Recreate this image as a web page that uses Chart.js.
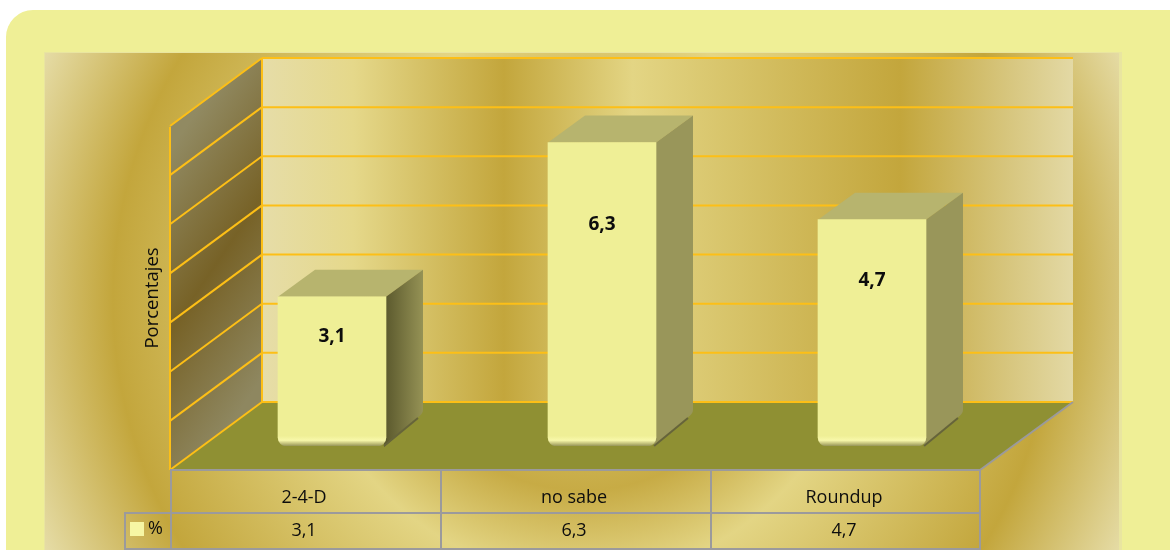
<!DOCTYPE html>
<html>
<head>
<meta charset="utf-8">
<title>Porcentajes</title>
<script src="https://cdn.jsdelivr.net/npm/chart.js@4"></script>
<style>
    html, body { margin: 0; padding: 0; background: #fff; }
    canvas { display: block; }
</style>
</head>
<body>
<canvas id="chart" width="1170" height="550"></canvas>
<script>
const categories = ['2-4-D', 'no sabe', 'Roundup'];
const values = [3.1, 6.3, 4.7];
const wallTicks = [0, 1, 2, 3, 4, 5, 6, 7];
const seriesName = '%';
const axisTitle = 'Porcentajes';

const FONT = '"Open Sans", sans-serif';
const GRID = '#fdbf16';
const LINE = '#9b9a9c';
const BAR = '#efef96';

function comma(v) {
    return v.toFixed(1).replace('.', ',');
}

function polygon(ctx, points, fill) {
    ctx.beginPath();
    points.forEach(function (p, i) {
        if (i === 0) ctx.moveTo(p[0], p[1]);
        else ctx.lineTo(p[0], p[1]);
    });
    ctx.closePath();
    ctx.fillStyle = fill;
    ctx.fill();
}

function line(ctx, x1, y1, x2, y2, color, width) {
    ctx.beginPath();
    ctx.moveTo(x1, y1);
    ctx.lineTo(x2, y2);
    ctx.strokeStyle = color;
    ctx.lineWidth = width;
    ctx.stroke();
}

// frame, walls and floor of the 3d box
const boxPlugin = {
    id: 'box',
    beforeDraw(chart) {
        const ctx = chart.ctx;
        ctx.save();

        ctx.fillStyle = '#fff';
        ctx.fillRect(0, 0, 1170, 550);
        ctx.beginPath();
        ctx.roundRect(6, 10, 1200, 600, 27);
        ctx.fillStyle = BAR;
        ctx.fill();

        ctx.fillStyle = '#e9e5a0';
        ctx.fillRect(44, 52, 1078, 498);
        const panel = ctx.createRadialGradient(583, 300, 0, 583, 300, 595);
        panel.addColorStop(0, '#e3d584');
        panel.addColorStop(0.32, '#c7ab45');
        panel.addColorStop(0.465, '#e3d584');
        panel.addColorStop(0.79, '#c3a63c');
        panel.addColorStop(1, '#e6dda8');
        ctx.fillStyle = panel;
        ctx.fillRect(45, 53, 1074, 497);

        const back = ctx.createLinearGradient(262, 0, 1073, 0);
        back.addColorStop(0, '#e6dda8');
        back.addColorStop(0.113, '#e5d88a');
        back.addColorStop(0.298, '#c3a63c');
        back.addColorStop(0.457, '#e3d584');
        back.addColorStop(0.787, '#c3a63c');
        back.addColorStop(1, '#e3d9a5');
        ctx.fillStyle = back;
        ctx.fillRect(262, 58, 811, 344);

        const side = ctx.createLinearGradient(170, 150, 339, 265);
        side.addColorStop(0, '#918a62');
        side.addColorStop(0.5, '#776227');
        side.addColorStop(1, '#8e8760');
        polygon(ctx, [[170, 127], [262, 58], [262, 402], [170, 470]], side);

        polygon(ctx, [[170, 470], [262, 402], [1073, 402], [980, 470]], '#8f9033');

        // one grid line per tick, on both walls
        const step = 344 / (wallTicks.length - 1);
        wallTicks.forEach(function (t) {
            const yBack = 402 - t * step;
            const yFront = 470 - t * step;
            line(ctx, 262, yBack, 1073, yBack, GRID, 2);
            line(ctx, 170, yFront, 262, yBack, GRID, 2);
        });
        line(ctx, 170, 127, 170, 470, GRID, 2);
        line(ctx, 262, 58, 262, 402, GRID, 2);
        line(ctx, 980, 470, 1073, 402, LINE, 2);

        // data table under the floor
        line(ctx, 170, 470, 980, 470, LINE, 2);
        line(ctx, 124, 513, 980, 513, LINE, 2);
        line(ctx, 124, 549, 980, 549, LINE, 2);
        line(ctx, 125, 513, 125, 550, LINE, 2);
        const colWidth = 810 / categories.length;
        for (let i = 0; i <= categories.length; i++) {
            const x = 171 + i * colWidth - (i === categories.length ? 1 : 0);
            line(ctx, x, 470, x, 550, LINE, 2);
        }
        ctx.restore();
    },
    beforeDatasetsDraw(chart) {
        const ctx = chart.ctx;
        const bars = chart.getDatasetMeta(0).data;
        ctx.save();
        bars.forEach(function (bar, i) {
            const half = bar.width / 2;
            const l = bar.x - half;
            const r = bar.x + half;
            const top = bar.y;
            const bottom = bar.base;
            const dx = 37;
            const dy = 27;

            polygon(ctx, [[l, top], [l + dx, top - dy], [r + dx, top - dy], [r, top]], '#b7b46e');

            let fill = '#99965a';
            if (i === 0) {
                fill = ctx.createLinearGradient(r, 0, r + dx, 0);
                fill.addColorStop(0, '#5c5a2e');
                fill.addColorStop(1, '#959255');
            }
            ctx.beginPath();
            ctx.moveTo(r, top);
            ctx.lineTo(r + dx, top - dy);
            ctx.lineTo(r + dx, bottom - dy - 9);
            ctx.quadraticCurveTo(r + dx, bottom - dy - 5, r + dx - 6, bottom - dy - 1);
            ctx.lineTo(r - 2, bottom + 1);
            ctx.closePath();
            ctx.fillStyle = fill;
            ctx.fill();

            line(ctx, r + dx - 5, bottom - dy - 1, r - 2, bottom, '#66643a', 2);
        });
        ctx.restore();
    },
    afterDraw(chart) {
        const ctx = chart.ctx;
        const bars = chart.getDatasetMeta(0).data;
        ctx.save();
        ctx.textAlign = 'center';
        ctx.textBaseline = 'middle';
        ctx.fillStyle = '#0d0d0d';

        // labels inside the bars
        ctx.font = 'bold 19px ' + FONT;
        bars.forEach(function (bar, i) {
            ctx.fillText(comma(values[i]), bar.x, bar.y + (bar.base - bar.y) * 0.27);
        });

        // values row of the table
        ctx.font = '18px ' + FONT;
        bars.forEach(function (bar, i) {
            ctx.fillText(comma(values[i]), bar.x - 28, 531);
        });

        // legend key
        ctx.fillStyle = '#f6f6a4';
        ctx.fillRect(130, 522, 14, 14);
        ctx.fillStyle = '#0d0d0d';
        ctx.font = '18px ' + FONT;
        ctx.fillText(seriesName, 155.5, 529);

        ctx.translate(153, 298);
        ctx.rotate(-Math.PI / 2);
        ctx.font = '18.5px ' + FONT;
        ctx.fillText(axisTitle, 0, 0);
        ctx.restore();
    }
};

function barFill(context) {
    const ctx = context.chart.ctx;
    const g = ctx.createLinearGradient(0, 0, 0, 447);
    g.addColorStop(0, BAR);
    g.addColorStop(0.975, BAR);
    g.addColorStop(0.985, '#f8f8aa');
    g.addColorStop(0.992, '#c4c27c');
    g.addColorStop(1, '#85834a');
    return g;
}

const chart = new Chart(document.getElementById('chart'), {
    type: 'bar',
    data: {
        labels: categories,
        datasets: [{
            label: seriesName,
            data: values,
            backgroundColor: barFill,
            borderSkipped: false,
            borderRadius: {topLeft: 0, topRight: 0, bottomLeft: 9, bottomRight: 9},
            barThickness: 108
        }]
    },
    options: {
        responsive: false,
        animation: false,
        layout: {
            padding: {left: 197, right: 163, top: 108.9, bottom: 0}
        },
        plugins: {
            legend: {display: false},
            tooltip: {enabled: false}
        },
        scales: {
            x: {
                grid: {display: false, drawTicks: false},
                border: {display: false},
                ticks: {
                    color: '#0d0d0d',
                    font: {family: '"Open Sans", sans-serif', size: 18},
                    padding: 41,
                    labelOffset: -28,
                    maxRotation: 0
                },
                afterFit: function (scale) {
                    scale.height = 104;
                }
            },
            y: {
                display: false,
                min: wallTicks[0],
                max: wallTicks[wallTicks.length - 1]
            }
        }
    },
    plugins: [boxPlugin]
});
</script>
</body>
</html>
